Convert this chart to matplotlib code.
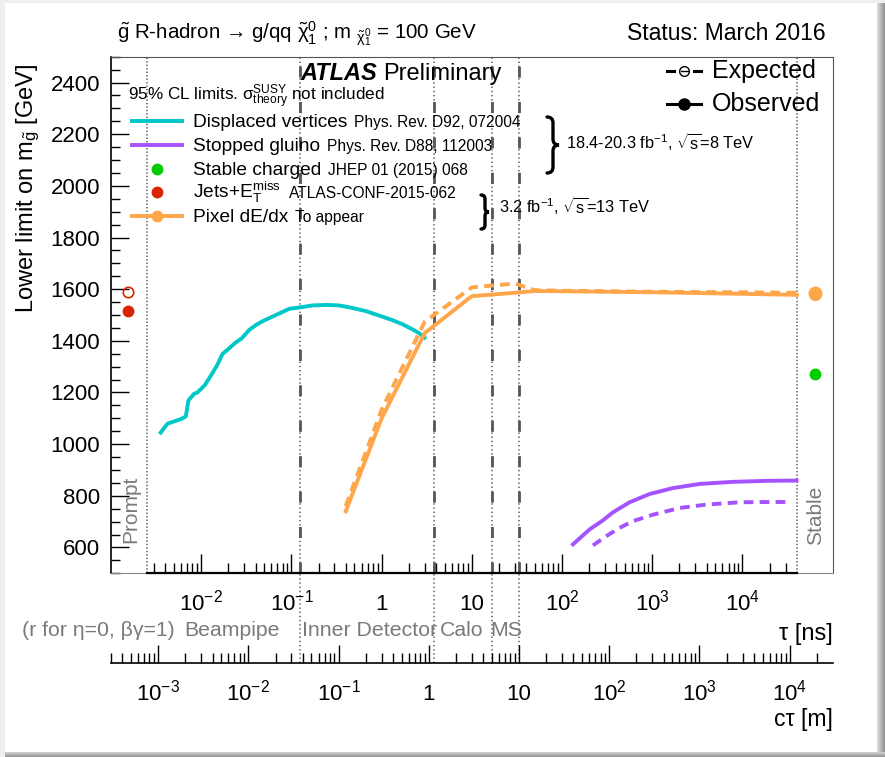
import matplotlib
matplotlib.use('Agg')
import matplotlib.pyplot as plt
import matplotlib.transforms as mtransforms
from matplotlib.lines import Line2D
from matplotlib.patches import Rectangle, PathPatch
from matplotlib.path import Path
from matplotlib.ticker import FixedLocator, MultipleLocator, NullFormatter

plt.rcParams['font.family'] = ['Liberation Sans', 'DejaVu Sans']
plt.rcParams['mathtext.fontset'] = 'custom'
plt.rcParams['mathtext.rm'] = 'Liberation Sans'
plt.rcParams['mathtext.it'] = 'Liberation Sans:italic'
plt.rcParams['mathtext.bf'] = 'Liberation Sans:bold'
plt.rcParams['mathtext.default'] = 'regular'
plt.rcParams['lines.scale_dashes'] = False

C_M_PER_NS = 0.299792458

# ---- data: lifetime tau [ns], lower mass limit [GeV] ----
# displaced vertices (observed)
dv_tau = [0.00356, 0.00422, 0.0050, 0.00594, 0.00675, 0.00721, 0.00834, 0.00908,
          0.0110, 0.0133, 0.0151, 0.0172, 0.0204, 0.0242, 0.0282, 0.0340, 0.0404,
          0.0479, 0.0592, 0.0733, 0.0946, 0.122, 0.171, 0.242, 0.340, 0.478, 0.671,
          1.03, 1.32, 1.71, 2.21, 2.62, 2.98]
dv_obs = [1045, 1079, 1088, 1097, 1107, 1169, 1195, 1200, 1229, 1275, 1307, 1349,
          1371, 1394, 1410, 1442, 1461, 1476, 1491, 1506, 1524, 1529, 1537, 1539,
          1537, 1527, 1515, 1493, 1480, 1464, 1444, 1429, 1412]

# stopped gluino
sg_tau_obs = [132, 202, 284, 366, 561, 935, 1698, 3357, 7870, 18450, 39700]
sg_obs = [612, 670, 705, 736, 775, 807, 830, 846, 854, 858, 859]
sg_tau_exp = [220, 309, 434, 611, 1019, 2014, 3981, 9333, 20090, 33500]
sg_exp = [608, 644, 676, 702, 727, 753, 766, 775, 776, 776]

# pixel dE/dx
px_tau = [0.4, 1.0, 3.0, 10, 30, 50, 100, 1000, 10000, 40000]
px_obs = [740, 1100, 1430, 1573, 1586, 1593, 1592, 1588, 1582, 1578]
px_exp = [760, 1133, 1474, 1607, 1622, 1596, 1594, 1590, 1588, 1586]

# single points: prompt (jets+MET) and stable (charged, pixel)
prompt_tau = 0.00155
jets_obs, jets_exp = 1515, 1590
stable_tau = 63000
stable_obs = 1272
px_stable_obs, px_stable_exp = 1580, 1586

# region boundaries
prompt_edge = 0.0025
stable_edge = 40000
detector_ctau_m = [0.037, 1.15, 5.0, 10.0]   # beampipe, ID, calo, MS
detector_tau = [r / C_M_PER_NS for r in detector_ctau_m]

tau_major = [1e-2, 1e-1, 1, 10, 1e2, 1e3, 1e4]
tau_labels = [r'$10^{-2}$', r'$10^{-1}$', '1', '10', r'$10^{2}$', r'$10^{3}$', r'$10^{4}$']
ctau_major = [1e-3, 1e-2, 1e-1, 1, 10, 1e2, 1e3, 1e4]
ctau_labels = [r'$10^{-3}$', r'$10^{-2}$', r'$10^{-1}$', '1', '10', r'$10^{2}$', r'$10^{3}$', r'$10^{4}$']

cyan = '#00c8c8'
purple = '#a552ff'
orange = '#ffa54a'
green = '#00cc00'
red = '#d92400'
grey_txt = '#7a7a7a'

W, H = 885, 757
fig = plt.figure(figsize=(W / 100, H / 100), dpi=100, facecolor='#efefef')
# pixel coordinates, y pointing down
pix = mtransforms.Affine2D().scale(1.0 / W, -1.0 / H).translate(0, 1) + fig.transFigure

# page + shadow
fig.patches.append(Rectangle((5, 3), 872, 749, transform=pix, facecolor='white',
                             edgecolor='none', zorder=-20))
for i in range(8):
    g = 0.86 - 0.04 * i
    fig.patches.append(Rectangle((877 + i, 3), 1, 752, transform=pix,
                                 facecolor=(g, g, g), edgecolor='none', zorder=-19))
for i in range(5):
    g = 0.80 - 0.05 * i
    fig.patches.append(Rectangle((5, 752 + i), 880, 1, transform=pix,
                                 facecolor=(g, g, g), edgecolor='none', zorder=-19))

# ---- main axes ----
x0, x1, y0, y1 = 111, 832.7, 56.7, 573.3
ax = fig.add_axes([x0 / W, 1 - y1 / H, (x1 - x0) / W, (y1 - y0) / H])
ax.set_facecolor('none')
ax.set_xscale('log')
ax.set_xlim(1e-3, 1e5)
ax.set_ylim(500, 2500)

ax.yaxis.set_major_locator(FixedLocator(list(range(600, 2401, 200))))
ax.yaxis.set_minor_locator(MultipleLocator(50))
ax.tick_params(axis='y', which='both', direction='in', left=True, right=False,
               labelsize=16, pad=8, width=1)
ax.tick_params(axis='y', which='major', length=13)
ax.tick_params(axis='y', which='minor', length=6.5)

tau_minor = [m * 10.0 ** e for e in range(-3, 5) for m in range(2, 10)
             if prompt_edge < m * 10.0 ** e < stable_edge * 0.9]
ax.xaxis.set_major_locator(FixedLocator(tau_major))
ax.xaxis.set_minor_locator(FixedLocator(tau_minor))
ax.xaxis.set_major_formatter(NullFormatter())
ax.xaxis.set_minor_formatter(NullFormatter())
ax.tick_params(axis='x', which='both', direction='in', bottom=True, top=False,
               labelbottom=False, width=1)
ax.tick_params(axis='x', which='major', length=14)
ax.tick_params(axis='x', which='minor', length=7)

for s in ['top', 'right']:
    ax.spines[s].set_color('#555555')
    ax.spines[s].set_linewidth(0.8)
ax.spines['bottom'].set_color('#888888')
ax.spines['bottom'].set_linewidth(0.8)
ax.spines['left'].set_linewidth(1.2)
ax.plot([prompt_edge, stable_edge], [500, 500], color='black', lw=1.6,
        clip_on=False, zorder=5)

# boundaries
xb = mtransforms.blended_transform_factory(ax.transData, ax.transAxes)
ctau_y = -(662.7 - y1) / (y1 - y0)
for t in detector_tau:
    ax.plot([t, t], [ctau_y, 1], transform=xb, color='#666666', lw=1.2,
            ls=(0, (1, 2)), clip_on=False)
    ax.plot([t, t], [0, 1], transform=xb, color='#555555', lw=2.0,
            ls=(0, (8, 17.5)))
for t in [prompt_edge, stable_edge]:
    ax.plot([t, t], [0, 1], transform=xb, color='#666666', lw=1.2, ls=(0, (1, 1.5)))

# curves
lw = 2.8
ax.plot(dv_tau, dv_obs, color=cyan, lw=lw)
ax.plot(sg_tau_exp, sg_exp, color=purple, lw=lw, ls=(0, (7, 4.5)))
ax.plot(sg_tau_obs, sg_obs, color=purple, lw=lw)
ax.plot(px_tau, px_exp, color=orange, lw=lw, ls=(0, (7, 4.5)))
ax.plot(px_tau, px_obs, color=orange, lw=lw)

ms = 7.5
ax.plot([prompt_tau], [jets_exp], marker='o', ms=ms, mfc='none', mec=red, mew=1.2)
ax.plot([prompt_tau], [jets_obs], marker='o', ms=ms, color=red)
ax.plot([stable_tau], [stable_obs], marker='o', ms=ms, color=green)
ax.plot([stable_tau], [px_stable_exp], marker='o', ms=ms + 1, mfc='none', mec=orange, mew=1.5)
ax.plot([stable_tau], [px_stable_obs], marker='o', ms=ms + 1, color=orange)

# ---- c*tau axis ----
axc = fig.add_axes([x0 / W, 1 - 662.7 / H, (x1 - x0) / W, 1e-4])
axc.set_facecolor('none')
axc.set_xscale('log')
axc.set_xlim(1e-3 * C_M_PER_NS, 1e5 * C_M_PER_NS)
axc.set_yticks([])
for s in ['top', 'left', 'right']:
    axc.spines[s].set_visible(False)
axc.spines['bottom'].set_linewidth(1.2)
lo, hi = axc.get_xlim()
ctau_minor = [m * 10.0 ** e for e in range(-4, 5) for m in range(2, 10)
              if lo < m * 10.0 ** e < hi]
axc.xaxis.set_major_locator(FixedLocator(ctau_major))
axc.xaxis.set_minor_locator(FixedLocator(ctau_minor))
axc.xaxis.set_major_formatter(NullFormatter())
axc.xaxis.set_minor_formatter(NullFormatter())
axc.tick_params(axis='x', which='both', direction='in', labelbottom=False, width=1)
axc.tick_params(axis='x', which='major', length=13)
axc.tick_params(axis='x', which='minor', length=7)

# tick labels (baseline aligned like ROOT)
tx = mtransforms.blended_transform_factory(ax.transData, pix)
for t, lab in zip(tau_major, tau_labels):
    fig.text(t, 610, lab, transform=tx, ha='center', va='baseline', fontsize=16)
cx = mtransforms.blended_transform_factory(axc.transData, pix)
for t, lab in zip(ctau_major, ctau_labels):
    fig.text(t, 700, lab, transform=cx, ha='center', va='baseline', fontsize=16)

fig.text(833, 640, 'τ [ns]', transform=pix, ha='right', va='baseline', fontsize=17)
fig.text(833, 726, 'cτ [m]', transform=pix, ha='right', va='baseline', fontsize=16.5)

gsz = 15.3
fig.text(22, 636, '(r for η=0, βγ=1)', transform=pix, va='baseline', fontsize=gsz, color=grey_txt)
fig.text(184, 636, 'Beampipe', transform=pix, va='baseline', fontsize=gsz, color=grey_txt)
fig.text(302, 636, 'Inner Detector', transform=pix, va='baseline', fontsize=gsz, color=grey_txt)
fig.text(440, 636, 'Calo', transform=pix, va='baseline', fontsize=gsz, color=grey_txt)
fig.text(490, 636, 'MS', transform=pix, va='baseline', fontsize=gsz, color=grey_txt)

fig.text(131, 543, 'Prompt', transform=pix, rotation=90, ha='center', va='bottom',
         fontsize=15, color=grey_txt)
fig.text(816, 545, 'Stable', transform=pix, rotation=90, ha='center', va='bottom',
         fontsize=15, color=grey_txt)

# y label
fig.text(28, 64, r'Lower limit on m$_{\tilde{\mathrm{g}}}$ [GeV]', transform=pix,
         rotation=90, ha='center', va='top', fontsize=17)

# title line
fig.text(117, 40, r'$\tilde{\mathrm{g}}$ R-hadron → g/qq $\tilde{\chi}^{0}_{1}$ ; '
         r'm $_{\tilde{\chi}^{0}_{1}}$ = 100 GeV', transform=pix, va='baseline', fontsize=14.8)
fig.text(826, 40, 'Status: March 2016', transform=pix, ha='right', va='baseline', fontsize=16.5)

fig.canvas.draw()
rend = fig.canvas.get_renderer()
inv = pix.inverted()


def right_edge(t):
    bb = t.get_window_extent(renderer=rend)
    return inv.transform((bb.x1, bb.y0))[0]


t_atlas = fig.text(300, 80, 'ATLAS', transform=pix, va='baseline', fontsize=17,
                   fontweight='bold', fontstyle='italic')
fig.text(right_edge(t_atlas) + 6, 80, 'Preliminary', transform=pix, va='baseline', fontsize=17)
fig.text(128, 101, r'95% CL limits. $\sigma^{\mathrm{SUSY}}_{\mathrm{theory}}$ not included',
         transform=pix, va='baseline', fontsize=12.3)

# ---- legend ----
rows = [
    ('line', cyan, 'Displaced vertices', 'Phys. Rev. D92, 072004', 121),
    ('line', purple, 'Stopped gluino', 'Phys. Rev. D88, 112003', 145),
    ('dot', green, 'Stable charged', 'JHEP 01 (2015) 068', 169),
    ('dot', red, r'Jets+E$_{\mathrm{T}}^{\mathrm{miss}}$', 'ATLAS-CONF-2015-062', 192),
    ('linedot', orange, 'Pixel dE/dx', 'To appear', 216),
]
ref_gap = [7, 7, 7, 8, 7]
for (kind, col, name, ref, y), gap in zip(rows, ref_gap):
    if kind in ('line', 'linedot'):
        fig.add_artist(Line2D([132, 182], [y, y], transform=pix, color=col, lw=lw))
    if kind in ('dot', 'linedot'):
        fig.add_artist(Line2D([157], [y], transform=pix, marker='o', ms=ms, color=col))
    t = fig.text(193, y + 6, name, transform=pix, va='baseline', fontsize=13.8)
    fig.text(right_edge(t) + gap, y + 6, ref, transform=pix, va='baseline', fontsize=11.2)


def brace(xl, yt, yb, w):
    ym = 0.5 * (yt + yb)
    xm = xl + 0.5 * w
    verts = [(xl, yt), (xm, yt), (xm, yt + w * 0.5), (xm, yt + w * 0.5),
             (xm, ym - w * 0.5), (xm, ym), (xl + w, ym),
             (xm, ym), (xm, ym + w * 0.5), (xm, ym + w * 0.5),
             (xm, yb - w * 0.5), (xm, yb), (xl, yb)]
    codes = [Path.MOVETO, Path.CURVE3, Path.CURVE3, Path.LINETO,
             Path.LINETO, Path.CURVE3, Path.CURVE3,
             Path.CURVE3, Path.CURVE3, Path.LINETO,
             Path.LINETO, Path.CURVE3, Path.CURVE3]
    fig.patches.append(PathPatch(Path(verts, codes), transform=pix, fill=False,
                                 lw=2.4, edgecolor='black', capstyle='round'))


brace(547, 117, 173, 12)
fig.text(566, 149, r'18.4-20.3 fb$^{-1}$, $\sqrt{s}$=8 TeV', transform=pix,
         va='baseline', fontsize=11.8)
brace(481, 195, 229, 8)
fig.text(499, 213, r'3.2 fb$^{-1}$, $\sqrt{s}$=13 TeV', transform=pix,
         va='baseline', fontsize=11.8)

# expected / observed key
for xa, xz in [(667, 674), (694, 701)]:
    fig.add_artist(Line2D([xa, xz], [71, 71], transform=pix, color='black', lw=2.2))
fig.add_artist(Line2D([684], [71], transform=pix, marker='o', ms=7, mfc='white',
                      mec='black', mew=1.0))
fig.add_artist(Line2D([680.5, 687.5], [71, 71], transform=pix, color='black', lw=1.0))
fig.add_artist(Line2D([667, 701], [104, 104], transform=pix, color='black', lw=2.2))
fig.add_artist(Line2D([684], [104], transform=pix, marker='o', ms=8, color='black'))
fig.text(712, 78, 'Expected', transform=pix, va='baseline', fontsize=18)
fig.text(712, 111, 'Observed', transform=pix, va='baseline', fontsize=18)

fig.savefig('out.png', dpi=100, facecolor=fig.get_facecolor())
